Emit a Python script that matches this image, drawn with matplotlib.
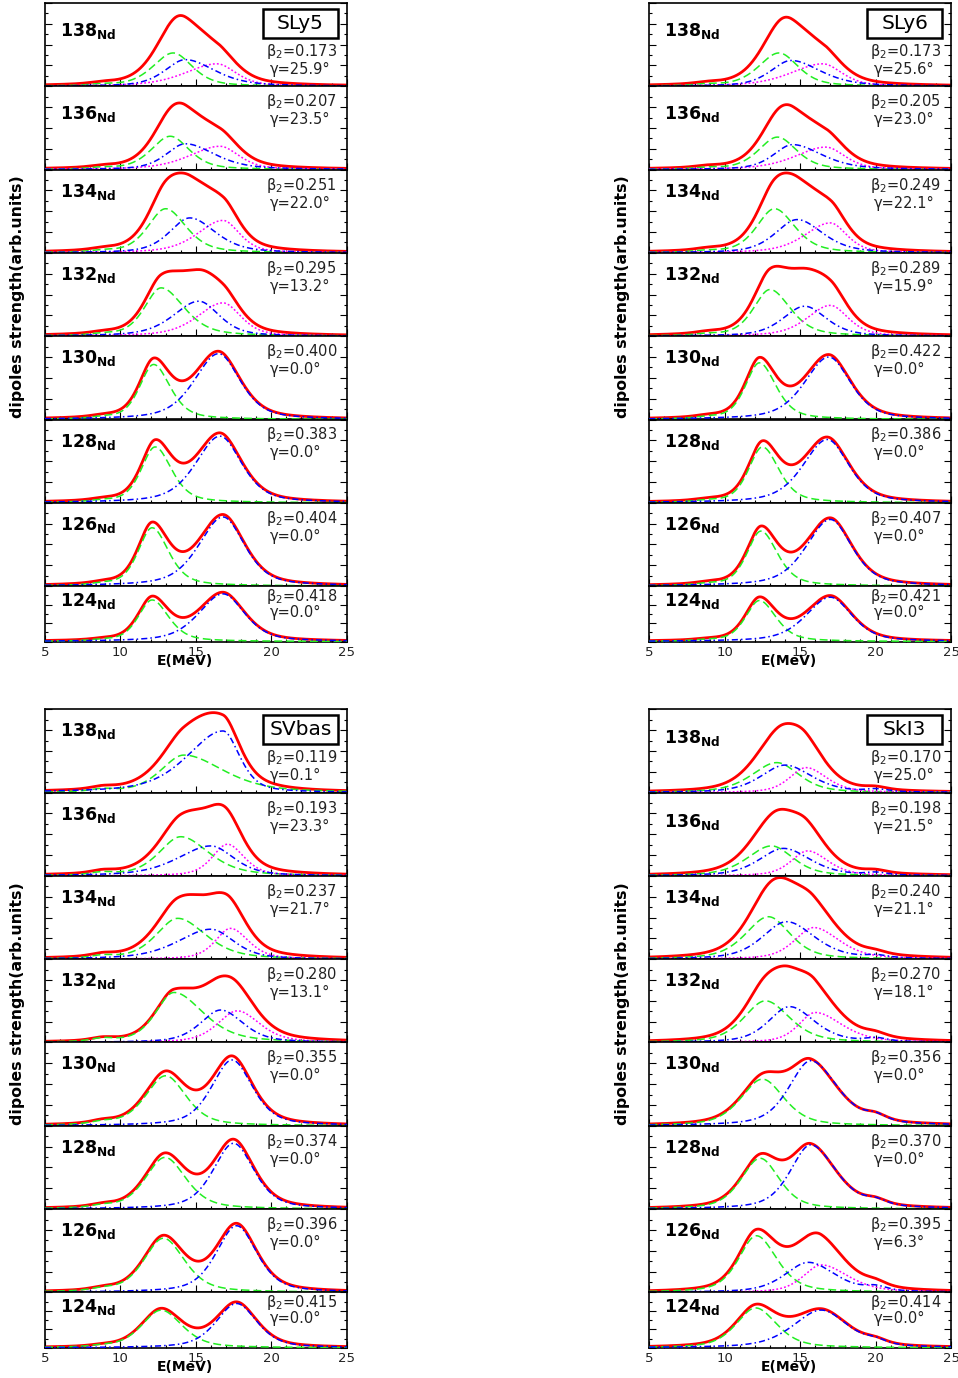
import numpy as np
import matplotlib
matplotlib.use('Agg')
import matplotlib.pyplot as plt
from matplotlib.patches import Rectangle
from matplotlib.ticker import MultipleLocator

# ---- data ----
nuclei = ['138', '136', '134', '132', '130', '128', '126', '124']
energy_range = (5, 25)

sly5_beta2 = [0.173, 0.207, 0.251, 0.295, 0.400, 0.383, 0.404, 0.418]
sly5_gamma = [25.9, 23.5, 22.0, 13.2, 0.0, 0.0, 0.0, 0.0]
sly6_beta2 = [0.173, 0.205, 0.249, 0.289, 0.422, 0.386, 0.407, 0.421]
sly6_gamma = [25.6, 23.0, 22.1, 15.9, 0.0, 0.0, 0.0, 0.0]
svbas_beta2 = [0.119, 0.193, 0.237, 0.280, 0.355, 0.374, 0.396, 0.415]
svbas_gamma = [0.1, 23.3, 21.7, 13.1, 0.0, 0.0, 0.0, 0.0]
ski3_beta2 = [0.170, 0.198, 0.240, 0.270, 0.356, 0.370, 0.395, 0.414]
ski3_gamma = [25.0, 21.5, 21.1, 18.1, 0.0, 0.0, 6.3, 0.0]

# peak height of the total (red) strength, panel fraction
sly5_total = [0.85, 0.80, 0.96, 0.80, 0.82, 0.84, 0.86, 0.89]
sly6_total = [0.83, 0.78, 0.96, 0.84, 0.78, 0.79, 0.82, 0.83]
svbas_total = [0.96, 0.86, 0.80, 0.80, 0.84, 0.84, 0.83, 0.83]
ski3_total = [0.83, 0.80, 0.98, 0.92, 0.81, 0.79, 0.76, 0.79]

# resonance components: (E peak MeV, height [panel fraction], half width left, half width right)
sly5_green = [(13.5, 0.40, 1.6, 1.5), (13.3, 0.40, 1.5, 1.5), (13.0, 0.53, 1.4, 1.6), (12.7, 0.58, 1.3, 1.8),
              (12.2, 0.66, 1.1, 1.3), (12.3, 0.67, 1.1, 1.3), (12.1, 0.70, 1.1, 1.3), (12.1, 0.75, 1.1, 1.3)]
sly5_blue = [(14.3, 0.32, 1.6, 2.3), (14.3, 0.31, 1.5, 2.3), (14.6, 0.42, 1.6, 2.0), (15.2, 0.42, 2.0, 1.6),
             (16.5, 0.79, 1.9, 1.7), (16.6, 0.80, 1.9, 1.7), (16.8, 0.83, 1.9, 1.7), (16.8, 0.86, 1.9, 1.7)]
sly5_magenta = [(16.4, 0.27, 2.5, 1.5), (16.6, 0.28, 2.4, 1.5), (16.8, 0.39, 2.0, 1.3), (16.8, 0.40, 2.0, 1.4),
                None, None, None, None]

sly6_green = [(13.6, 0.40, 1.6, 1.5), (13.5, 0.39, 1.5, 1.5), (13.3, 0.53, 1.4, 1.6), (13.0, 0.56, 1.3, 1.6),
              (12.3, 0.68, 1.1, 1.3), (12.5, 0.67, 1.1, 1.3), (12.4, 0.66, 1.1, 1.3), (12.3, 0.74, 1.1, 1.3)]
sly6_blue = [(14.4, 0.31, 1.6, 2.3), (14.5, 0.30, 1.5, 2.3), (14.8, 0.40, 1.7, 2.0), (15.3, 0.36, 1.7, 1.7),
             (16.9, 0.75, 1.9, 1.7), (16.8, 0.76, 1.9, 1.7), (17.0, 0.80, 1.9, 1.7), (17.0, 0.80, 1.9, 1.7)]
sly6_magenta = [(16.5, 0.27, 2.5, 1.5), (16.7, 0.27, 2.4, 1.5), (17.0, 0.36, 2.0, 1.3), (17.0, 0.37, 1.8, 1.4),
                None, None, None, None]

svbas_green = [(14.2, 0.45, 1.8, 3.1), (14.0, 0.47, 1.7, 2.2), (13.8, 0.49, 1.7, 2.2), (13.55, 0.60, 1.45, 2.3),
               (13.0, 0.60, 1.6, 1.6), (12.95, 0.62, 1.55, 1.65), (12.85, 0.65, 1.55, 1.65), (12.7, 0.68, 1.55, 1.65)]
svbas_blue = [(16.8, 0.74, 2.8, 1.3), (16.0, 0.36, 2.6, 1.8), (16.0, 0.36, 2.6, 1.8), (16.65, 0.39, 1.6, 1.75),
              (17.4, 0.79, 1.6, 1.6), (17.5, 0.79, 1.6, 1.6), (17.7, 0.80, 1.6, 1.6), (17.7, 0.80, 1.6, 1.6)]
svbas_magenta = [None, (17.1, 0.38, 1.2, 1.3), (17.3, 0.37, 1.2, 1.4), (17.75, 0.38, 1.55, 1.75),
                 None, None, None, None]

ski3_green = [(13.45, 0.36, 1.95, 1.75), (13.1, 0.36, 1.9, 1.7), (12.9, 0.51, 1.8, 1.7), (12.7, 0.50, 1.7, 1.9),
              (12.5, 0.56, 1.7, 1.7), (12.35, 0.61, 1.5, 1.5), (12.1, 0.68, 1.4, 1.6), (12.05, 0.72, 1.55, 1.65)]
ski3_blue = [(14.0, 0.33, 1.9, 2.1), (13.9, 0.33, 1.9, 2.1), (14.1, 0.45, 1.9, 2.2), (14.3, 0.43, 1.65, 1.95),
             (15.7, 0.78, 1.7, 2.1), (15.7, 0.77, 1.6, 2.0), (15.55, 0.36, 1.85, 2.1), (16.4, 0.68, 2.2, 2.1)]
ski3_magenta = [(15.4, 0.30, 1.3, 1.6), (15.5, 0.30, 1.3, 1.6), (15.9, 0.38, 1.5, 2.0), (16.0, 0.36, 1.3, 2.1),
                None, None, (16.4, 0.33, 1.4, 2.1), None]

# small low-energy bump (~8.8 MeV, in green) and high-energy shoulder (~20 MeV, in blue)
sly5_low = [0.015, 0.015, 0.015, 0.015, 0.015, 0.015, 0.015, 0.015]
sly6_low = [0.015, 0.015, 0.015, 0.015, 0.015, 0.015, 0.015, 0.015]
svbas_low = [0.03, 0.03, 0.03, 0.035, 0.03, 0.025, 0.025, 0.02]
ski3_low = [0.0, 0.0, 0.0, 0.0, 0.0, 0.0, 0.0, 0.0]
sly5_high = [0.0, 0.0, 0.0, 0.0, 0.0, 0.0, 0.0, 0.0]
sly6_high = [0.0, 0.0, 0.0, 0.0, 0.0, 0.0, 0.0, 0.0]
svbas_high = [0.0, 0.0, 0.0, 0.0, 0.0, 0.0, 0.0, 0.0]
ski3_high = [0.03, 0.03, 0.03, 0.04, 0.07, 0.06, 0.05, 0.07]

blocks = [
    ('SLy5', sly5_beta2, sly5_gamma, sly5_total, sly5_green, sly5_blue, sly5_magenta, sly5_low, sly5_high),
    ('SLy6', sly6_beta2, sly6_gamma, sly6_total, sly6_green, sly6_blue, sly6_magenta, sly6_low, sly6_high),
    ('SVbas', svbas_beta2, svbas_gamma, svbas_total, svbas_green, svbas_blue, svbas_magenta, svbas_low, svbas_high),
    ('SkI3', ski3_beta2, ski3_gamma, ski3_total, ski3_green, ski3_blue, ski3_magenta, ski3_low, ski3_high),
]

# ---- layout (pixels) ----
W, H = 958, 1378
block_origin = {'SLy5': (45, 3), 'SLy6': (649.3, 3), 'SVbas': (45, 709.3), 'SkI3': (649.3, 709.3)}
panel_w = 301.7
panel_h = [83.3] * 7 + [55.5]
label_drop = {'SLy5': [27, 27, 21, 21, 21, 21, 21, 14], 'SLy6': [27, 27, 21, 21, 21, 21, 21, 14],
              'SVbas': [21, 21, 21, 21, 21, 21, 21, 14], 'SkI3': [28, 28, 21, 21, 21, 21, 21, 14]}


def peak(e, p):
    e0, h, wl, wr = p
    w = np.where(e < e0, wl, wr)
    u = ((e - e0) / w) ** 2
    return h * (0.5 * np.exp(-np.log(2) * u) + 0.5 / (1 + u))


E = np.linspace(energy_range[0], energy_range[1], 801)
fig = plt.figure(figsize=(W / 100, H / 100), dpi=100)

for name, beta2, gamma, total, green, blue, magenta, low, high in blocks:
    x0, y0 = block_origin[name]
    ytop = y0
    for i, nuc in enumerate(nuclei):
        h = panel_h[i]
        ax = fig.add_axes([x0 / W, 1 - (ytop + h) / H, panel_w / W, h / H])
        g = peak(E, green[i]) + peak(E, (8.8, low[i], 0.9, 0.9))
        b = peak(E, blue[i]) + peak(E, (20.0, high[i], 0.8, 0.9))
        m = peak(E, magenta[i]) if magenta[i] is not None else np.zeros_like(E)
        tot = g + b + m
        tot = tot * total[i] / tot.max()
        ax.plot(E, tot, color='#ff0000', lw=2.0, zorder=2)
        ax.plot(E, g, color='#22ee22', lw=1.1, ls=(0, (5.2, 2.6)), zorder=3)
        ax.plot(E, b, color='#0000ff', lw=1.1, ls=(0, (4, 2, 1, 2)), zorder=4)
        if magenta[i] is not None:
            ax.plot(E, m, color='#ff00ff', lw=1.1, ls=(0, (1.2, 1.4)), zorder=3)
        ax.set_xlim(*energy_range)
        ax.set_ylim(0, 1)
        ax.xaxis.set_major_locator(MultipleLocator(5))
        ax.xaxis.set_minor_locator(MultipleLocator(1))
        if i < 7:
            ax.yaxis.set_major_locator(MultipleLocator(0.25))
            ax.yaxis.set_minor_locator(MultipleLocator(0.125))
        else:
            ax.yaxis.set_major_locator(MultipleLocator(1 / 3))
            ax.yaxis.set_minor_locator(MultipleLocator(1 / 6))
        ax.tick_params(which='both', direction='in', left=True, right=True, top=False, bottom=True,
                       labelleft=False, labelbottom=(i == 7), labelsize=9.5, labelcolor='#222222', pad=3)
        ax.tick_params(which='major', length=5, width=0.8)
        ax.tick_params(which='minor', length=2.5, width=0.8)
        for s in ax.spines.values():
            s.set_linewidth(1.2)

        drop = label_drop[name][i]
        ax.text(15 / panel_w, 1 - (drop + 6) / h, r'$\mathbf{%s}_{\mathbf{Nd}}$' % nuc,
                transform=ax.transAxes, ha='left', va='baseline', fontsize=12.5)
        if i == 0:
            by, gy = 48, 66
        elif i == 7:
            by, gy = 10, 26
        else:
            by, gy = 15, 33
        ax.text(221 / panel_w, 1 - (by + 5) / h, r'β$_2$=%.3f' % beta2[i], transform=ax.transAxes,
                ha='left', va='baseline', fontsize=10.5, color='#222222')
        ax.text(225 / panel_w, 1 - (gy + 5) / h, 'γ=%.1f°' % gamma[i], transform=ax.transAxes,
                ha='left', va='baseline', fontsize=10.5, color='#222222')
        ytop += h

    # force name box
    bx0, bx1 = x0 + 218, x0 + 293
    by0, by1 = y0 + 6, y0 + 34.5
    fig.add_artist(Rectangle((bx0 / W, 1 - by1 / H), (bx1 - bx0) / W, (by1 - by0) / H,
                             transform=fig.transFigure, fill=True, facecolor='white',
                             edgecolor='black', lw=1.8, zorder=10))
    fig.text((bx0 + bx1) / 2 / W, 1 - (by0 + by1) / 2 / H, name, ha='center', va='center',
             fontsize=14.5, zorder=11)
    # axis titles
    fig.text((x0 + 140) / W, 1 - (y0 + 658) / H, 'E(MeV)', ha='center', va='center',
             fontsize=10, fontweight='bold')
    fig.text((x0 - 27) / W, 1 - (y0 + 294) / H, 'dipoles strength(arb.units)', ha='center',
             va='center', rotation=90, fontsize=11.3, fontweight='bold')

fig.savefig('out.png', dpi=100)
